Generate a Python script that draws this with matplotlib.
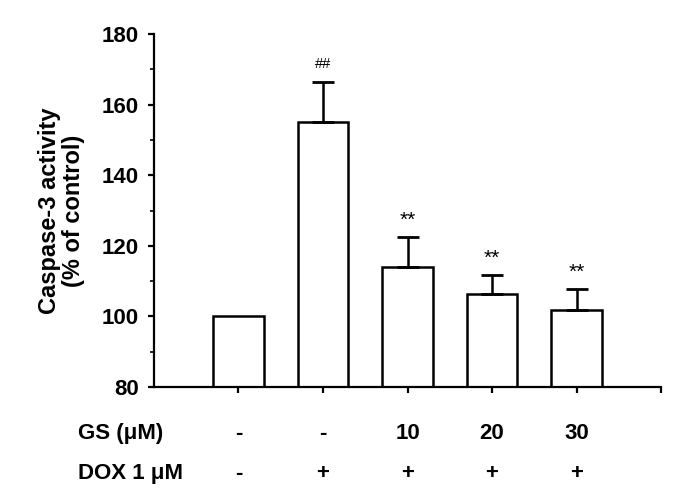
import numpy as np
import matplotlib
matplotlib.use("Agg")
import matplotlib.pyplot as plt

plt.rcParams['font.family'] = ['Liberation Sans', 'DejaVu Sans']

# data
values = [100, 155, 114, 106.4, 101.8]
errors = [0, 11.5, 8.4, 5.3, 6.0]
marks = ['', '##', '**', '**', '**']
gs_labels = ['-', '-', '10', '20', '30']
dox_labels = ['-', '+', '+', '+', '+']

x = np.arange(1, len(values) + 1)
vals = np.array(values)
errs = np.array(errors)
has_err = errs > 0

fig = plt.figure(figsize=(6.85, 4.98), dpi=100)
ax = fig.add_axes([0.2248, 0.2229, 0.9650 - 0.2248, 0.9317 - 0.2229])

ax.bar(x, values, width=0.6, bottom=0, color='white', edgecolor='black',
       linewidth=1.8)
# only upper error bars, control bar has none
ax.errorbar(x[has_err], vals[has_err],
            yerr=[np.zeros(has_err.sum()), errs[has_err]], fmt='none',
            ecolor='black', elinewidth=1.8, capsize=8, capthick=2)

# significance marks
for xi, v, e, m in zip(x, values, errors, marks):
    if not m:
        continue
    if m == '##':
        ax.text(xi, v + e + 3.0, m, ha='center', va='bottom', fontsize=10.5)
    else:
        ax.text(xi, v + e + 2.0, m, ha='center', va='bottom', fontsize=15)

ax.set_ylim(80, 180)
ax.set_xlim(0, 6)
ax.set_yticks(np.arange(80, 181, 20))
ax.set_yticks(np.arange(90, 180, 20), minor=True)
ax.set_xticks(np.arange(1, 7))
ax.set_xticklabels([])

for s in ['top', 'right']:
    ax.spines[s].set_visible(False)
for s in ['left', 'bottom']:
    ax.spines[s].set_linewidth(1.6)

ax.tick_params(axis='y', which='major', length=4, width=1.6, pad=7,
               labelsize=16)
ax.tick_params(axis='y', which='minor', length=3, width=1.2)
ax.tick_params(axis='x', which='major', length=4, width=1.6)
for lab in ax.get_yticklabels():
    lab.set_fontweight('bold')

ax.set_ylabel('Caspase-3 activity\n(% of control)', fontsize=17,
              fontweight='bold', labelpad=12, linespacing=1.05)

# treatment table under the axis
tr = ax.get_xaxis_transform()
ax.text(-0.9, -0.133, 'GS (μM)', transform=tr, ha='left', va='center',
        fontsize=16, fontweight='bold')
ax.text(-0.9, -0.245, 'DOX 1 μM', transform=tr, ha='left', va='center',
        fontsize=16, fontweight='bold')
for xi, g, d in zip(x, gs_labels, dox_labels):
    ax.text(xi, -0.133, g, transform=tr, ha='center', va='center',
            fontsize=16, fontweight='bold')
    ax.text(xi, -0.245, d, transform=tr, ha='center', va='center',
            fontsize=16, fontweight='bold')

fig.savefig('out.png', dpi=100)
